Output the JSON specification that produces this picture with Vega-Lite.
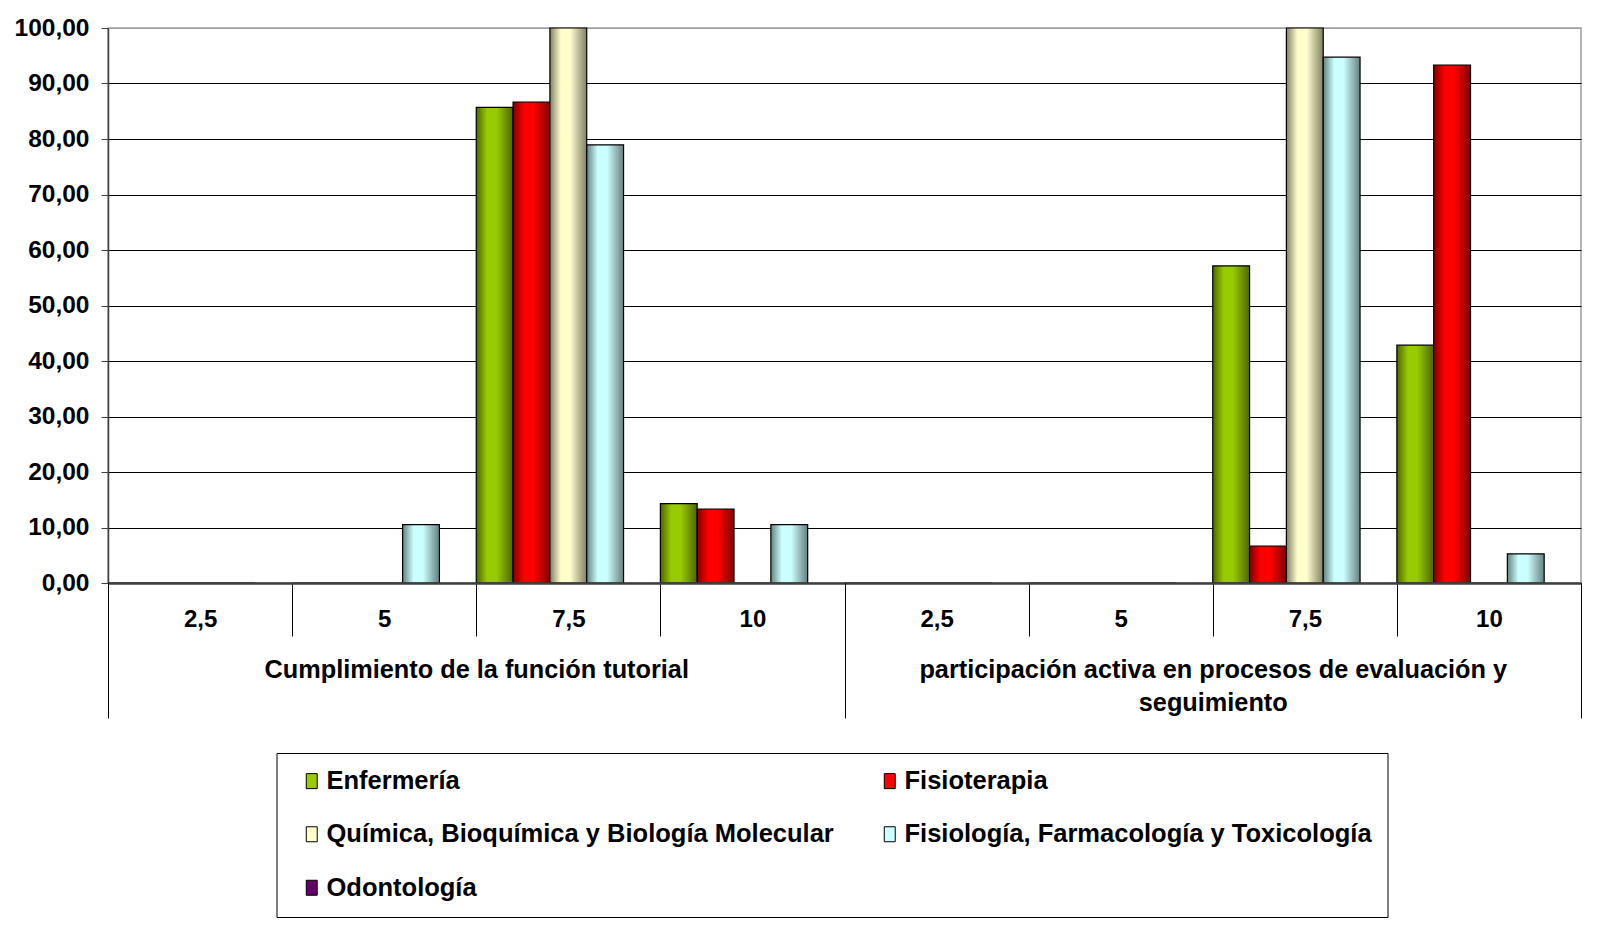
{
  "$schema": "https://vega.github.io/schema/vega-lite/v6.json",
  "width": 1473,
  "height": 555,
  "autosize": {"type": "none"},
  "padding": {"left": 108, "top": 28, "right": 37, "bottom": 345},
  "background": "white",
  "config": {
    "view": {"stroke": "#a0a0a0", "strokeWidth": 1.5},
    "font": "Liberation Sans",
    "legend": {"strokeWidth": 1}
  },
  "data": {
    "values": [
      {"group": "Cumplimiento de la función tutorial", "cat": "1-2,5", "series": "Enfermería", "value": 0},
      {"group": "Cumplimiento de la función tutorial", "cat": "1-2,5", "series": "Fisioterapia", "value": 0},
      {"group": "Cumplimiento de la función tutorial", "cat": "1-2,5", "series": "Química, Bioquímica y Biología Molecular", "value": 0},
      {"group": "Cumplimiento de la función tutorial", "cat": "1-2,5", "series": "Fisiología, Farmacología y Toxicología", "value": 0},
      {"group": "Cumplimiento de la función tutorial", "cat": "1-2,5", "series": "Odontología", "value": 0},
      {"group": "Cumplimiento de la función tutorial", "cat": "1-5", "series": "Enfermería", "value": 0},
      {"group": "Cumplimiento de la función tutorial", "cat": "1-5", "series": "Fisioterapia", "value": 0},
      {"group": "Cumplimiento de la función tutorial", "cat": "1-5", "series": "Química, Bioquímica y Biología Molecular", "value": 0},
      {"group": "Cumplimiento de la función tutorial", "cat": "1-5", "series": "Fisiología, Farmacología y Toxicología", "value": 10.53},
      {"group": "Cumplimiento de la función tutorial", "cat": "1-5", "series": "Odontología", "value": 0},
      {"group": "Cumplimiento de la función tutorial", "cat": "1-7,5", "series": "Enfermería", "value": 85.71},
      {"group": "Cumplimiento de la función tutorial", "cat": "1-7,5", "series": "Fisioterapia", "value": 86.67},
      {"group": "Cumplimiento de la función tutorial", "cat": "1-7,5", "series": "Química, Bioquímica y Biología Molecular", "value": 100},
      {"group": "Cumplimiento de la función tutorial", "cat": "1-7,5", "series": "Fisiología, Farmacología y Toxicología", "value": 78.95},
      {"group": "Cumplimiento de la función tutorial", "cat": "1-7,5", "series": "Odontología", "value": 0},
      {"group": "Cumplimiento de la función tutorial", "cat": "1-10", "series": "Enfermería", "value": 14.29},
      {"group": "Cumplimiento de la función tutorial", "cat": "1-10", "series": "Fisioterapia", "value": 13.33},
      {"group": "Cumplimiento de la función tutorial", "cat": "1-10", "series": "Química, Bioquímica y Biología Molecular", "value": 0},
      {"group": "Cumplimiento de la función tutorial", "cat": "1-10", "series": "Fisiología, Farmacología y Toxicología", "value": 10.53},
      {"group": "Cumplimiento de la función tutorial", "cat": "1-10", "series": "Odontología", "value": 0},
      {"group": "participación activa en procesos de evaluación y seguimiento", "cat": "2-2,5", "series": "Enfermería", "value": 0},
      {"group": "participación activa en procesos de evaluación y seguimiento", "cat": "2-2,5", "series": "Fisioterapia", "value": 0},
      {"group": "participación activa en procesos de evaluación y seguimiento", "cat": "2-2,5", "series": "Química, Bioquímica y Biología Molecular", "value": 0},
      {"group": "participación activa en procesos de evaluación y seguimiento", "cat": "2-2,5", "series": "Fisiología, Farmacología y Toxicología", "value": 0},
      {"group": "participación activa en procesos de evaluación y seguimiento", "cat": "2-2,5", "series": "Odontología", "value": 0},
      {"group": "participación activa en procesos de evaluación y seguimiento", "cat": "2-5", "series": "Enfermería", "value": 0},
      {"group": "participación activa en procesos de evaluación y seguimiento", "cat": "2-5", "series": "Fisioterapia", "value": 0},
      {"group": "participación activa en procesos de evaluación y seguimiento", "cat": "2-5", "series": "Química, Bioquímica y Biología Molecular", "value": 0},
      {"group": "participación activa en procesos de evaluación y seguimiento", "cat": "2-5", "series": "Fisiología, Farmacología y Toxicología", "value": 0},
      {"group": "participación activa en procesos de evaluación y seguimiento", "cat": "2-5", "series": "Odontología", "value": 0},
      {"group": "participación activa en procesos de evaluación y seguimiento", "cat": "2-7,5", "series": "Enfermería", "value": 57.14},
      {"group": "participación activa en procesos de evaluación y seguimiento", "cat": "2-7,5", "series": "Fisioterapia", "value": 6.67},
      {"group": "participación activa en procesos de evaluación y seguimiento", "cat": "2-7,5", "series": "Química, Bioquímica y Biología Molecular", "value": 100},
      {"group": "participación activa en procesos de evaluación y seguimiento", "cat": "2-7,5", "series": "Fisiología, Farmacología y Toxicología", "value": 94.74},
      {"group": "participación activa en procesos de evaluación y seguimiento", "cat": "2-7,5", "series": "Odontología", "value": 0},
      {"group": "participación activa en procesos de evaluación y seguimiento", "cat": "2-10", "series": "Enfermería", "value": 42.86},
      {"group": "participación activa en procesos de evaluación y seguimiento", "cat": "2-10", "series": "Fisioterapia", "value": 93.33},
      {"group": "participación activa en procesos de evaluación y seguimiento", "cat": "2-10", "series": "Química, Bioquímica y Biología Molecular", "value": 0},
      {"group": "participación activa en procesos de evaluación y seguimiento", "cat": "2-10", "series": "Fisiología, Farmacología y Toxicología", "value": 5.26},
      {"group": "participación activa en procesos de evaluación y seguimiento", "cat": "2-10", "series": "Odontología", "value": 0}
    ]
  },
  "encoding": {
    "y": {
      "field": "value",
      "type": "quantitative",
      "stack": null,
      "scale": {"domain": [0, 100], "nice": false},
      "axis": {
        "title": null,
        "values": [0, 10, 20, 30, 40, 50, 60, 70, 80, 90, 100],
        "labelExpr": "replace(format(datum.value, '.2f'), '.', ',')",
        "labelFont": "Liberation Sans",
        "labelFontSize": 24.5,
        "labelFontWeight": "bold",
        "labelColor": "black",
        "labelPadding": 12,
        "tickSize": 7,
        "tickColor": "#404040",
        "tickWidth": 1,
        "domainColor": "#404040",
        "domainWidth": 1.5,
        "grid": true,
        "gridColor": {"condition": {"test": "datum.value === 100", "value": "#a0a0a0"}, "value": "black"},
        "gridWidth": 1
      }
    }
  },
  "layer": [
    {
      "mark": {"type": "bar", "opacity": 0},
      "encoding": {
        "x": {
          "field": "cat",
          "type": "nominal",
          "sort": ["1-2,5", "1-5", "1-7,5", "1-10", "2-2,5", "2-5", "2-7,5", "2-10"],
          "scale": {"paddingInner": 0, "paddingOuter": 0},
          "axis": {
            "title": null,
            "orient": "bottom",
            "labelExpr": "substring(datum.label, 2)",
            "labelAngle": 0,
            "labelFont": "Liberation Sans",
            "labelFontSize": 24,
            "labelFontWeight": "bold",
            "labelColor": "black",
            "labelBaseline": "middle",
            "labelPadding": -17,
            "ticks": true,
            "tickBand": "extent",
            "tickSize": 53,
            "tickColor": "black",
            "tickWidth": 1,
            "domain": true,
            "domainColor": "#404040",
            "domainWidth": 2.5,
            "grid": false,
            "zindex": 1
          }
        },
        "xOffset": {
          "field": "series",
          "type": "nominal",
          "sort": ["Enfermería", "Fisioterapia", "Química, Bioquímica y Biología Molecular", "Fisiología, Farmacología y Toxicología", "Odontología"],
          "scale": {"paddingInner": 0, "paddingOuter": 0}
        },
        "color": {
          "field": "series",
          "type": "nominal",
          "scale": {
            "domain": ["Enfermería", "Fisioterapia", "Química, Bioquímica y Biología Molecular", "Fisiología, Farmacología y Toxicología", "Odontología"],
            "range": ["#99cc00", "#ff0000", "#ffffcc", "#ccffff", "#660066"]
          },
          "legend": {
            "title": null,
            "orient": "none",
            "legendX": 168.5,
            "legendY": 725,
            "direction": "horizontal",
            "columns": 2,
            "gridAlign": "all",
            "symbolType": "M-0.73,-1H0.73V1H-0.73Z",
            "symbolSize": 225,
            "symbolOpacity": 1,
            "symbolStrokeColor": "black",
            "symbolStrokeWidth": 1,
            "labelFont": "Liberation Sans",
            "labelFontSize": 25.5,
            "labelFontWeight": "bold",
            "labelColor": "black",
            "labelLimit": 2000,
            "labelOffset": 2,
            "rowPadding": 26.5,
            "columnPadding": 35,
            "padding": 15,
            "symbolOffset": 7.5,
            "strokeColor": "black",
            "fillColor": "white"
          }
        }
      }
    },
    {
      "transform": [{"filter": "datum.series === 'Enfermería'"}],
      "mark": {"type": "bar", "stroke": "black", "strokeWidth": 1.2, "fill": {"gradient": "linear", "x1": 0, "y1": 0, "x2": 1, "y2": 0, "stops": [{"offset": 0, "color": "#4d6600"}, {"offset": 0.3, "color": "#99cc00"}, {"offset": 0.55, "color": "#99cc00"}, {"offset": 1, "color": "#4d6600"}]}},
      "encoding": {
        "x": {"field": "cat", "type": "nominal", "sort": ["1-2,5", "1-5", "1-7,5", "1-10", "2-2,5", "2-5", "2-7,5", "2-10"], "scale": {"paddingInner": 0, "paddingOuter": 0}, "axis": null},
        "xOffset": {"field": "series", "type": "nominal", "scale": {"domain": ["Enfermería", "Fisioterapia", "Química, Bioquímica y Biología Molecular", "Fisiología, Farmacología y Toxicología", "Odontología"], "paddingInner": 0, "paddingOuter": 0}}
      }
    },
    {
      "transform": [{"filter": "datum.series === 'Fisioterapia'"}],
      "mark": {"type": "bar", "stroke": "black", "strokeWidth": 1.2, "fill": {"gradient": "linear", "x1": 0, "y1": 0, "x2": 1, "y2": 0, "stops": [{"offset": 0, "color": "#800000"}, {"offset": 0.3, "color": "#ff0000"}, {"offset": 0.55, "color": "#ff0000"}, {"offset": 1, "color": "#800000"}]}},
      "encoding": {
        "x": {"field": "cat", "type": "nominal", "sort": ["1-2,5", "1-5", "1-7,5", "1-10", "2-2,5", "2-5", "2-7,5", "2-10"], "scale": {"paddingInner": 0, "paddingOuter": 0}, "axis": null},
        "xOffset": {"field": "series", "type": "nominal", "scale": {"domain": ["Enfermería", "Fisioterapia", "Química, Bioquímica y Biología Molecular", "Fisiología, Farmacología y Toxicología", "Odontología"], "paddingInner": 0, "paddingOuter": 0}}
      }
    },
    {
      "transform": [{"filter": "datum.series === 'Química, Bioquímica y Biología Molecular'"}],
      "mark": {"type": "bar", "stroke": "black", "strokeWidth": 1.2, "fill": {"gradient": "linear", "x1": 0, "y1": 0, "x2": 1, "y2": 0, "stops": [{"offset": 0, "color": "#808066"}, {"offset": 0.3, "color": "#ffffcc"}, {"offset": 0.55, "color": "#ffffcc"}, {"offset": 1, "color": "#808066"}]}},
      "encoding": {
        "x": {"field": "cat", "type": "nominal", "sort": ["1-2,5", "1-5", "1-7,5", "1-10", "2-2,5", "2-5", "2-7,5", "2-10"], "scale": {"paddingInner": 0, "paddingOuter": 0}, "axis": null},
        "xOffset": {"field": "series", "type": "nominal", "scale": {"domain": ["Enfermería", "Fisioterapia", "Química, Bioquímica y Biología Molecular", "Fisiología, Farmacología y Toxicología", "Odontología"], "paddingInner": 0, "paddingOuter": 0}}
      }
    },
    {
      "transform": [{"filter": "datum.series === 'Fisiología, Farmacología y Toxicología'"}],
      "mark": {"type": "bar", "stroke": "black", "strokeWidth": 1.2, "fill": {"gradient": "linear", "x1": 0, "y1": 0, "x2": 1, "y2": 0, "stops": [{"offset": 0, "color": "#668080"}, {"offset": 0.3, "color": "#ccffff"}, {"offset": 0.55, "color": "#ccffff"}, {"offset": 1, "color": "#668080"}]}},
      "encoding": {
        "x": {"field": "cat", "type": "nominal", "sort": ["1-2,5", "1-5", "1-7,5", "1-10", "2-2,5", "2-5", "2-7,5", "2-10"], "scale": {"paddingInner": 0, "paddingOuter": 0}, "axis": null},
        "xOffset": {"field": "series", "type": "nominal", "scale": {"domain": ["Enfermería", "Fisioterapia", "Química, Bioquímica y Biología Molecular", "Fisiología, Farmacología y Toxicología", "Odontología"], "paddingInner": 0, "paddingOuter": 0}}
      }
    },
    {
      "mark": {"type": "bar", "opacity": 0},
      "encoding": {
        "x": {
          "field": "group",
          "type": "nominal",
          "sort": ["Cumplimiento de la función tutorial", "participación activa en procesos de evaluación y seguimiento"],
          "scale": {"paddingInner": 0, "paddingOuter": 0},
          "axis": {
            "title": null,
            "orient": "bottom",
            "labelExpr": "datum.label == 'participación activa en procesos de evaluación y seguimiento' ? ['participación activa en procesos de evaluación y', 'seguimiento'] : datum.label",
            "labelAngle": 0,
            "labelFont": "Liberation Sans",
            "labelFontSize": 25.3,
            "labelFontWeight": "bold",
            "labelColor": "black",
            "labelBaseline": "top",
            "labelLineHeight": 33,
            "labelPadding": -61,
            "labelLimit": 2000,
            "ticks": true,
            "tickBand": "extent",
            "tickSize": 135,
            "tickColor": "black",
            "tickWidth": 1,
            "domain": false,
            "grid": false,
            "zindex": 1
          }
        }
      }
    }
  ],
  "resolve": {"scale": {"x": "independent"}, "axis": {"x": "independent"}}
}
